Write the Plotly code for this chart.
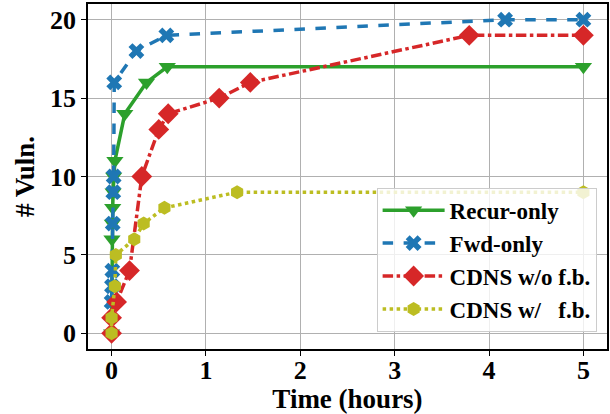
import plotly.graph_objects as go

recur_t = [0, 0.004, 0.008, 0.012, 0.016, 0.022, 0.035, 0.14, 0.37, 0.59, 5.0]
recur_v = [0, 6, 7, 8, 9, 10, 11, 14, 16, 17, 17]

fwd_t = [0.0, 0.004, 0.008, 0.012, 0.018, 0.022, 0.028, 0.263, 0.58, 4.17, 5.0]
fwd_v = [2, 3, 4, 7, 9, 10, 16, 18, 19, 20, 20]

cdns_t = [0, 0.0, 0.053, 0.19, 0.32, 0.5, 0.6, 1.14, 1.47, 3.79, 5.0]
cdns_v = [0, 1, 2, 4, 10, 13, 14, 15, 16, 19, 19]

fb_t = [0, 0.0, 0.035, 0.045, 0.24, 0.34, 0.56, 1.33, 5.0]
fb_v = [0, 1, 3, 5, 6, 7, 8, 9, 9]

x_ticks = [0, 1, 2, 3, 4, 5]
y_ticks = [0, 5, 10, 15, 20]

FONT = "Liberation Serif"

fig = go.Figure()
series = [
    ("Recur-only", recur_t, recur_v, "#2ca02c", "solid", "triangle-down", 15),
    ("Fwd-only", fwd_t, fwd_v, "#1f77b4", "dash", "x", 14),
    ("CDNS w/o f.b.", cdns_t, cdns_v, "#d62728", "dashdot", "diamond", 16),
    ("CDNS w/   f.b.", fb_t, fb_v, "#bcbd22", "dot", "hexagon", 14),
]
for i, (name, t, v, c, dash, sym, ms) in enumerate(series):
    fig.add_trace(go.Scatter(
        x=t, y=v, name=name, mode="lines+markers", legendgroup=f"g{i}",
        line=dict(color=c, width=3.5, dash=dash),
        marker=dict(symbol=sym, size=ms, color=c),
    ))

tfont = dict(family=FONT, size=26, color="black", weight="bold")
titlefont = dict(family=FONT, size=27, color="black", weight="bold")
axis_common = dict(
    showgrid=True, gridcolor="#b0b0b0", gridwidth=1,
    showline=True, linecolor="black", linewidth=1.5, mirror=True,
    ticks="outside", ticklen=5, tickcolor="black",
    tickfont=tfont, zeroline=False, automargin=False,
)
fig.update_xaxes(range=[-0.25, 5.25], tickvals=x_ticks, ticklabelstandoff=-8,
                 title=dict(text="Time (hours)", font=titlefont, standoff=0),
                 **axis_common)
fig.update_yaxes(range=[-1, 21], tickvals=y_ticks,
                 title=dict(text="# Vuln.", font=titlefont, standoff=8),
                 **axis_common)

fig.update_layout(
    width=610, height=414,
    margin=dict(l=88, r=3, t=4, b=65),
    plot_bgcolor="white", paper_bgcolor="white",
    legend=dict(
        x=0.98, y=0.05, xanchor="right", yanchor="bottom",
        bgcolor="rgba(255,255,255,0.8)", bordercolor="#cccccc", borderwidth=1,
        font=dict(family=FONT, size=23, color="black", weight="bold"),
        tracegroupgap=0, itemwidth=62,
    ),
    font=dict(family=FONT),
)
fig.write_html("out.html", post_script="document.body.style.margin='0';",
               config={"displayModeBar": False})
